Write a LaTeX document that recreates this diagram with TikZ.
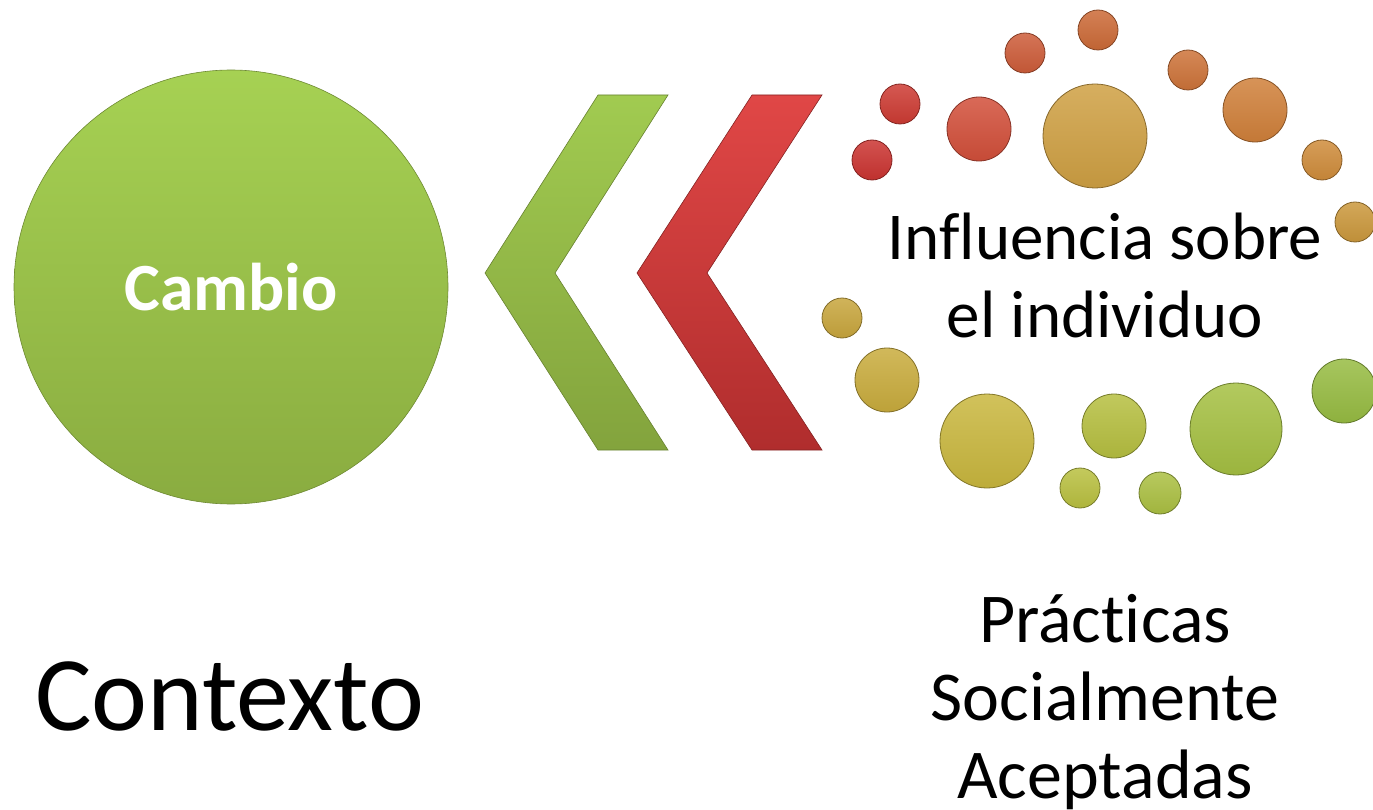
\documentclass[tikz,border=0pt]{standalone}
\usepackage{fontspec}
\setmainfont{Carlito}[Ligatures={NoCommon,NoContextual}]
\begin{document}
\begin{tikzpicture}[x=1pt,y=-1pt,
  bubble/.style={circle, inner sep=0pt, minimum size=#1, line width=0.8pt},
  bcol/.style={top color=#1!85!white, bottom color=#1!94!black, draw=#1!65!black},
  bigtext/.style={font=\fontsize{#1}{78}\selectfont, align=center, text=black}
]
\useasboundingbox (0,0) rectangle (1373,810);
\definecolor{gtop}{HTML}{A6D153}
\definecolor{gbot}{HTML}{8AAC40}
\definecolor{rtop}{HTML}{E04746}
\definecolor{rbot}{HTML}{B02D2D}

% main circle
\node[circle, inner sep=0pt, minimum size=434pt, top color=gtop, bottom color=gbot,
      draw=gbot!80!black, line width=0.6pt,
      font=\fontsize{67.5}{70}\selectfont\bfseries, text=white] (cambio) at (231,287) {Cambio};

% chevrons
\path[top color=gtop!97!black, bottom color=gbot!95!black, draw=gbot!75!black, line width=0.6pt]
  (598,95) -- (668,95) -- (555,273) -- (668,450) -- (598,450) -- (485,273) -- cycle;
\path[top color=rtop, bottom color=rbot, draw=rbot!75!black, line width=0.6pt]
  (752,95) -- (822,95) -- (707,273) -- (822,450) -- (752,450) -- (637,273) -- cycle;

% bubbles
\definecolor{c1}{HTML}{CB3431}
\definecolor{c2}{HTML}{CD3B33}
\definecolor{c3}{HTML}{D24F3A}
\definecolor{c4}{HTML}{CFA043}
\definecolor{c5}{HTML}{CD5C39}
\definecolor{c6}{HTML}{CC6A37}
\definecolor{c7}{HTML}{CD7339}
\definecolor{c8}{HTML}{D0803A}
\definecolor{c9}{HTML}{CF8C3B}
\definecolor{c10}{HTML}{CB983C}
\definecolor{c11}{HTML}{C8A63D}
\definecolor{c12}{HTML}{C9AC3D}
\definecolor{c13}{HTML}{C9B73E}
\definecolor{c14}{HTML}{B6BF40}
\definecolor{c15}{HTML}{A5C042}
\definecolor{c16}{HTML}{97BC42}
\definecolor{c17}{HTML}{B9C040}
\definecolor{c18}{HTML}{ABC042}

\node[bubble=40pt, bcol=c1] (b1) at (872,160) {};
\node[bubble=40pt, bcol=c2] (b2) at (900,104) {};
\node[bubble=64pt, bcol=c3] (b3) at (979,129) {};
\node[bubble=104pt, bcol=c4] (b4) at (1095,136) {};
\node[bubble=40pt, bcol=c5] (b5) at (1025,53) {};
\node[bubble=40pt, bcol=c6] (b6) at (1098,30) {};
\node[bubble=40pt, bcol=c7] (b7) at (1188,70) {};
\node[bubble=64pt, bcol=c8] (b8) at (1255,110) {};
\node[bubble=40pt, bcol=c9] (b9) at (1322,160) {};
\node[bubble=40pt, bcol=c10] (b10) at (1355,222) {};
\node[bubble=40pt, bcol=c11] (b11) at (842,318) {};
\node[bubble=64pt, bcol=c12] (b12) at (887,380) {};
\node[bubble=94pt, bcol=c13] (b13) at (987,441) {};
\node[bubble=64pt, bcol=c14] (b14) at (1114,426) {};
\node[bubble=92pt, bcol=c15] (b15) at (1236,429) {};
\node[bubble=64pt, bcol=c16] (b16) at (1344,391) {};
\node[bubble=40pt, bcol=c17] (b17) at (1080,488) {};
\node[bubble=42pt, bcol=c18] (b18) at (1160,493) {};

% texts
\node[bigtext=67] (influencia) at (1105,275) {Influencia sobre\\el individuo};
\node[bigtext=70] (practicas) at (1105,702) {Prácticas\\Socialmente\\Aceptadas};
\node[font=\fontsize{106}{110}\selectfont, anchor=base west, inner sep=0pt] (contexto) at (35,730) {Contexto};
\end{tikzpicture}
\end{document}
